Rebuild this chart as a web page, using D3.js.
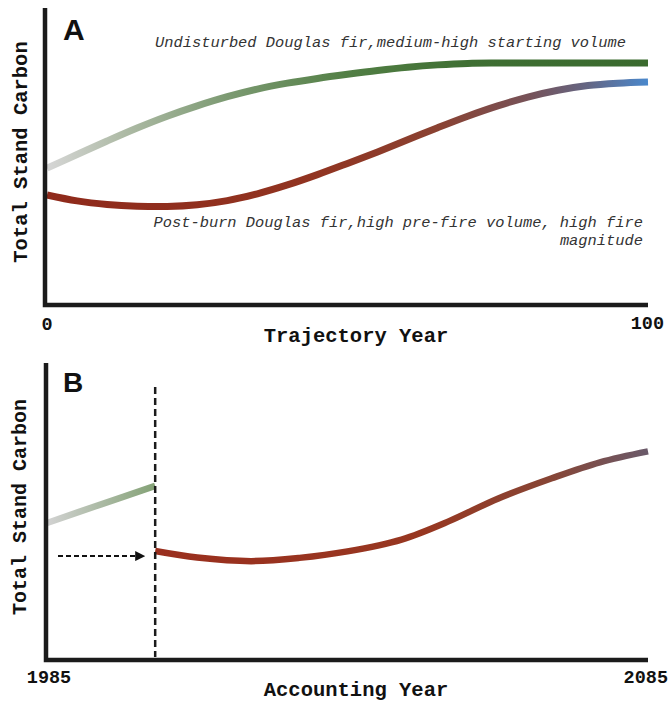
<!DOCTYPE html>
<html>
<head>
<meta charset="utf-8">
<script src="https://cdn.jsdelivr.net/npm/d3@7"></script>
<style>
  body { margin: 0; background: #fff; }
  text { font-family: "Liberation Mono", "Courier New", monospace; }
</style>
</head>
<body>
<svg id="chart" width="671" height="701"></svg>
<script>
// panel A: trajectory years 0-100
var trajYears = [0, 5, 10, 15, 20, 25, 30, 35, 40, 45, 50, 55, 60, 65, 70, 75, 80, 85, 90, 95, 100];
var undisturbed = [46.4, 51.0, 55.6, 60.0, 64.0, 67.5, 70.6, 73.2, 75.2, 76.8, 78.2, 79.5, 80.6, 81.4, 81.9, 82.0, 82.0, 82.0, 82.0, 82.0, 82.0];
var postBurn = [37.3, 35.3, 34.1, 33.5, 33.4, 34.0, 35.4, 37.7, 40.7, 44.2, 48.0, 51.9, 56.0, 60.1, 64.0, 67.5, 70.5, 72.8, 74.4, 75.2, 75.6];

// panel B: accounting years 1985-2085, fire in 2003
var fireYear = 2003;
var preFireYears = [1985, 1994, 2003];
var preFire = [46.3, 52.6, 58.8];
var postFireYears = [2003, 2010, 2019, 2027, 2035, 2044, 2052, 2060, 2069, 2077, 2085];
var postFire = [36.8, 34.6, 33.4, 34.5, 36.7, 40.7, 47.0, 54.5, 61.4, 66.8, 70.5];

var trajTicks = ["0", "100"];
var acctTicks = ["1985", "2085"];

var svg = d3.select("#chart");
var defs = svg.append("defs");

function gradient(id, x1, x2, stops) {
	var g = defs.append("linearGradient")
		.attr("id", id)
		.attr("gradientUnits", "userSpaceOnUse")
		.attr("x1", x1).attr("x2", x2)
		.attr("y1", 0).attr("y2", 0);
	stops.forEach(function(s) {
		g.append("stop").attr("offset", s[0]).attr("stop-color", s[1]);
	});
}

function pairs(xs, ys) {
	return xs.map(function(d, i) { return [d, ys[i]]; });
}

// ---------- panel A ----------
var xA = d3.scaleLinear().domain([0, 100]).range([47, 648]),
	yA = d3.scaleLinear().domain([0, 100]).range([305, 10]);

gradient("gradGreenA", xA(0), xA(100), [
	[0, "#d6d6d6"], [0.12, "#b0bca8"], [0.3, "#7c9a72"], [0.5, "#527f45"], [0.7, "#3f6f33"], [1, "#3a6a2e"]
]);
gradient("gradRedA", xA(0), xA(100), [
	[0, "#8f2a1b"], [0.45, "#913421"], [0.65, "#8a4232"], [0.8, "#775258"], [0.9, "#646684"], [1, "#4a88cc"]
]);

var lineA = d3.line()
	.x(function(d) { return xA(d[0]); })
	.y(function(d) { return yA(d[1]); })
	.curve(d3.curveCatmullRom);

svg.append("path")
	.attr("d", lineA(pairs(trajYears, undisturbed)))
	.attr("fill", "none")
	.attr("stroke", "url(#gradGreenA)")
	.attr("stroke-width", 7);

svg.append("path")
	.attr("d", lineA(pairs(trajYears, postBurn)))
	.attr("fill", "none")
	.attr("stroke", "url(#gradRedA)")
	.attr("stroke-width", 7);

svg.append("path")
	.attr("d", "M45," + 8 + "V" + yA(0) + "H" + xA(100))
	.attr("fill", "none")
	.attr("stroke", "#1b1b1b")
	.attr("stroke-width", 4.5);

svg.append("text")
	.attr("x", 63).attr("y", 40)
	.style("font-family", "'Liberation Sans', Arial, sans-serif")
	.style("font-weight", "bold")
	.style("font-size", "30px")
	.attr("fill", "#111")
	.text("A");

svg.append("text")
	.attr("x", 155).attr("y", 47)
	.style("font-style", "italic")
	.style("font-size", "15.4px")
	.attr("fill", "#333")
	.text("Undisturbed Douglas fir,medium-high starting volume");

svg.append("text")
	.attr("x", 643).attr("y", 227)
	.attr("text-anchor", "end")
	.style("font-style", "italic")
	.style("font-size", "15.4px")
	.attr("fill", "#333")
	.text("Post-burn Douglas fir,high pre-fire volume, high fire");

svg.append("text")
	.attr("x", 643).attr("y", 245)
	.attr("text-anchor", "end")
	.style("font-style", "italic")
	.style("font-size", "15.4px")
	.attr("fill", "#333")
	.text("magnitude");

svg.append("text")
	.attr("x", 47).attr("y", 330)
	.attr("text-anchor", "middle")
	.style("font-weight", "bold")
	.style("font-size", "18.5px")
	.attr("fill", "#111")
	.text(trajTicks[0]);

svg.append("text")
	.attr("x", 664).attr("y", 329)
	.attr("text-anchor", "end")
	.style("font-weight", "bold")
	.style("font-size", "18.5px")
	.attr("fill", "#111")
	.text(trajTicks[1]);

svg.append("text")
	.attr("x", 356).attr("y", 342)
	.attr("text-anchor", "middle")
	.style("font-weight", "bold")
	.style("font-size", "20.5px")
	.attr("fill", "#111")
	.text("Trajectory Year");

svg.append("text")
	.attr("transform", "translate(27,152) rotate(-90)")
	.attr("text-anchor", "middle")
	.style("font-weight", "bold")
	.style("font-size", "20.5px")
	.attr("fill", "#111")
	.text("Total Stand Carbon");

// ---------- panel B ----------
var xB = d3.scaleLinear().domain([1985, 2085]).range([47, 648]),
	yB = d3.scaleLinear().domain([0, 100]).range([660, 364]);

gradient("gradGreenB", xB(1985), xB(fireYear), [
	[0, "#d2d2d2"], [1, "#84a276"]
]);
gradient("gradRedB", xB(fireYear), xB(2085), [
	[0, "#9a2f1e"], [0.55, "#973721"], [0.8, "#874535"], [1, "#6a5a6a"]
]);

var lineB = d3.line()
	.x(function(d) { return xB(d[0]); })
	.y(function(d) { return yB(d[1]); })
	.curve(d3.curveCatmullRom);

svg.append("path")
	.attr("d", lineB(pairs(preFireYears, preFire)))
	.attr("fill", "none")
	.attr("stroke", "url(#gradGreenB)")
	.attr("stroke-width", 6.5);

svg.append("path")
	.attr("d", lineB(pairs(postFireYears, postFire)))
	.attr("fill", "none")
	.attr("stroke", "url(#gradRedB)")
	.attr("stroke-width", 6.5);

// fire year marker
svg.append("line")
	.attr("x1", xB(fireYear)).attr("x2", xB(fireYear))
	.attr("y1", 387).attr("y2", 657)
	.attr("stroke", "#1b1b1b")
	.attr("stroke-width", 2.5)
	.attr("stroke-dasharray", "7,4");

defs.append("marker")
	.attr("id", "arrow")
	.attr("viewBox", "0 0 10 10")
	.attr("refX", 10).attr("refY", 5)
	.attr("markerWidth", 5).attr("markerHeight", 5)
	.attr("orient", "auto")
	.attr("markerUnits", "strokeWidth")
	.append("path")
	.attr("d", "M0,0L10,5L0,10Z")
	.attr("fill", "#111");

svg.append("line")
	.attr("x1", 58).attr("x2", xB(fireYear) - 10)
	.attr("y1", yB(postFire[0]) + 5).attr("y2", yB(postFire[0]) + 5)
	.attr("stroke", "#111")
	.attr("stroke-width", 2)
	.attr("stroke-dasharray", "5,3")
	.attr("marker-end", "url(#arrow)");

svg.append("path")
	.attr("d", "M46,363V" + yB(0) + "H" + xB(2085))
	.attr("fill", "none")
	.attr("stroke", "#1b1b1b")
	.attr("stroke-width", 4.5);

svg.append("text")
	.attr("x", 63).attr("y", 392)
	.style("font-family", "'Liberation Sans', Arial, sans-serif")
	.style("font-weight", "bold")
	.style("font-size", "28px")
	.attr("fill", "#111")
	.text("B");

svg.append("text")
	.attr("x", 49).attr("y", 683)
	.attr("text-anchor", "middle")
	.style("font-weight", "bold")
	.style("font-size", "18.5px")
	.attr("fill", "#111")
	.text(acctTicks[0]);

svg.append("text")
	.attr("x", 668).attr("y", 683)
	.attr("text-anchor", "end")
	.style("font-weight", "bold")
	.style("font-size", "18.5px")
	.attr("fill", "#111")
	.text(acctTicks[1]);

svg.append("text")
	.attr("x", 356).attr("y", 696)
	.attr("text-anchor", "middle")
	.style("font-weight", "bold")
	.style("font-size", "20.5px")
	.attr("fill", "#111")
	.text("Accounting Year");

svg.append("text")
	.attr("transform", "translate(26,507) rotate(-90)")
	.attr("text-anchor", "middle")
	.style("font-weight", "bold")
	.style("font-size", "20px")
	.attr("fill", "#111")
	.text("Total Stand Carbon");
</script>
</body>
</html>
